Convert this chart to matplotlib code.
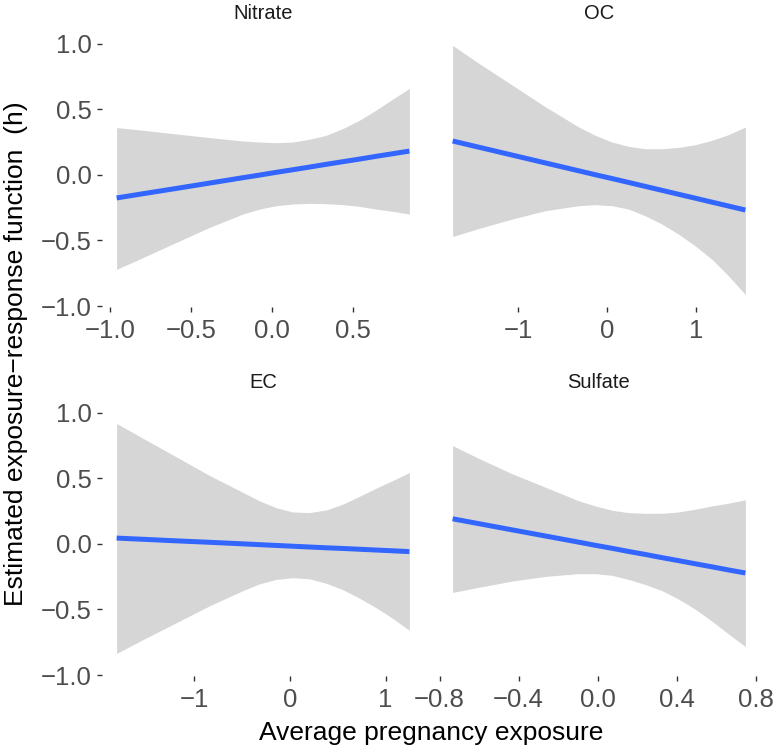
import numpy as np
import matplotlib.pyplot as plt
from matplotlib.ticker import FixedLocator, FuncFormatter

plt.rcParams['font.family'] = ['Liberation Sans', 'DejaVu Sans']

panels = ["Nitrate", "OC", "EC", "Sulfate"]

# exposure grid, fitted h and 95% band
nitrate_x = [-0.961, -0.800, -0.595, -0.389, -0.183, -0.080, 0.023, 0.126,
             0.228, 0.331, 0.434, 0.537, 0.640, 0.743, 0.846]
nitrate_fit = [-0.176, -0.144, -0.104, -0.063, -0.022, -0.002, 0.019, 0.039,
               0.059, 0.080, 0.100, 0.120, 0.141, 0.161, 0.181]
nitrate_hi = [0.360, 0.340, 0.312, 0.284, 0.258, 0.250, 0.245, 0.250,
              0.271, 0.301, 0.352, 0.416, 0.493, 0.577, 0.659]
nitrate_lo = [-0.720, -0.631, -0.516, -0.401, -0.299, -0.261, -0.235, -0.222,
              -0.217, -0.220, -0.227, -0.240, -0.261, -0.278, -0.299]

oc_x = [-1.738, -1.446, -1.071, -0.697, -0.322, -0.135, 0.052, 0.240,
        0.427, 0.614, 0.801, 0.989, 1.176, 1.363, 1.551]
oc_fit = [0.258, 0.211, 0.151, 0.091, 0.031, 0.001, -0.028, -0.058,
          -0.088, -0.118, -0.148, -0.178, -0.208, -0.238, -0.268]
oc_hi = [0.986, 0.851, 0.685, 0.519, 0.365, 0.301, 0.250, 0.217,
         0.199, 0.199, 0.209, 0.230, 0.263, 0.307, 0.365]
oc_lo = [-0.470, -0.409, -0.337, -0.273, -0.235, -0.227, -0.235, -0.261,
         -0.312, -0.375, -0.452, -0.542, -0.644, -0.771, -0.912]

ec_x = [-1.815, -1.543, -1.194, -0.845, -0.496, -0.321, -0.147, 0.028,
        0.202, 0.377, 0.551, 0.726, 0.900, 1.075, 1.249]
ec_fit = [0.044, 0.035, 0.023, 0.012, 0.000, -0.006, -0.012, -0.018,
          -0.024, -0.030, -0.035, -0.041, -0.047, -0.053, -0.059]
ec_hi = [0.917, 0.806, 0.664, 0.522, 0.393, 0.328, 0.276, 0.243,
         0.238, 0.258, 0.302, 0.362, 0.424, 0.483, 0.543]
ec_lo = [-0.835, -0.731, -0.602, -0.473, -0.357, -0.305, -0.271, -0.258,
         -0.266, -0.300, -0.349, -0.413, -0.486, -0.568, -0.659]

sulfate_x = [-0.734, -0.602, -0.434, -0.265, -0.096, -0.012, 0.073, 0.157,
             0.242, 0.326, 0.410, 0.495, 0.579, 0.663, 0.748]
sulfate_fit = [0.191, 0.154, 0.107, 0.060, 0.013, -0.011, -0.034, -0.058,
               -0.081, -0.105, -0.128, -0.152, -0.175, -0.199, -0.222]
sulfate_hi = [0.749, 0.651, 0.535, 0.432, 0.328, 0.289, 0.256, 0.238,
              0.233, 0.233, 0.243, 0.264, 0.289, 0.310, 0.336]
sulfate_lo = [-0.370, -0.331, -0.284, -0.248, -0.227, -0.227, -0.240, -0.271,
              -0.310, -0.357, -0.421, -0.499, -0.589, -0.687, -0.783]

xs = [nitrate_x, oc_x, ec_x, sulfate_x]
fits = [nitrate_fit, oc_fit, ec_fit, sulfate_fit]
his = [nitrate_hi, oc_hi, ec_hi, sulfate_hi]
los = [nitrate_lo, oc_lo, ec_lo, sulfate_lo]
xticks = [[-1.0, -0.5, 0.0, 0.5], [-1, 0, 1], [-1, 0, 1], [-0.8, -0.4, 0.0, 0.4, 0.8]]
xfmt = ["{:.1f}", "{:.0f}", "{:.0f}", "{:.1f}"]
yticks = [-1.0, -0.5, 0.0, 0.5, 1.0]

# shared y range with ggplot-like 5% expansion
ymin = min(min(l) for l in los)
ymax = max(max(h) for h in his)
pad = 0.05 * (ymax - ymin)

fig = plt.figure(figsize=(7.76, 7.5), dpi=100)
W, H = 776, 750
boxes = [(102, 33), (438, 33), (102, 402), (438, 402)]
pw, ph = 322, 274

def minus(s):
    return s.replace("-", "\u2212")

for i, name in enumerate(panels):
    l, t = boxes[i]
    ax = fig.add_axes([l / W, 1 - (t + ph) / H, pw / W, ph / H])
    ax.fill_between(xs[i], los[i], his[i], color="#d6d6d6", lw=0)
    ax.plot(xs[i], fits[i], color="#3366FF", lw=3.6, solid_capstyle="butt")
    ax.margins(x=0.05)
    ax.set_ylim(ymin - pad, ymax + pad)
    for s in ax.spines.values():
        s.set_visible(False)
    ax.xaxis.set_major_locator(FixedLocator(xticks[i]))
    f = xfmt[i]
    ax.xaxis.set_major_formatter(FuncFormatter(lambda v, p, f=f: minus(f.format(v + 0.0))))
    ax.yaxis.set_major_locator(FixedLocator(yticks))
    ax.yaxis.set_major_formatter(FuncFormatter(lambda v, p: minus("{:.1f}".format(v + 0.0))))
    ax.tick_params(length=3.6, width=1, color="#333333", labelcolor="#4D4D4D",
                   labelsize=18.5)
    ax.tick_params(axis="x", pad=5)
    ax.tick_params(axis="y", pad=4)
    if i % 2 == 1:
        ax.tick_params(axis="y", length=0, labelleft=False)
    ax.set_title(name, fontsize=14.5, pad=10, color="#1a1a1a")

fig.text(431 / W, 1 - 733 / H, "Average pregnancy exposure", ha="center", va="center",
         fontsize=19, color="black")
fig.text(16 / W, 1 - 354 / H, "Estimated exposure\u2212response function  (h)",
         rotation=90, ha="center", va="center", fontsize=19, color="black")

fig.savefig("out.png", dpi=100, facecolor="white")
